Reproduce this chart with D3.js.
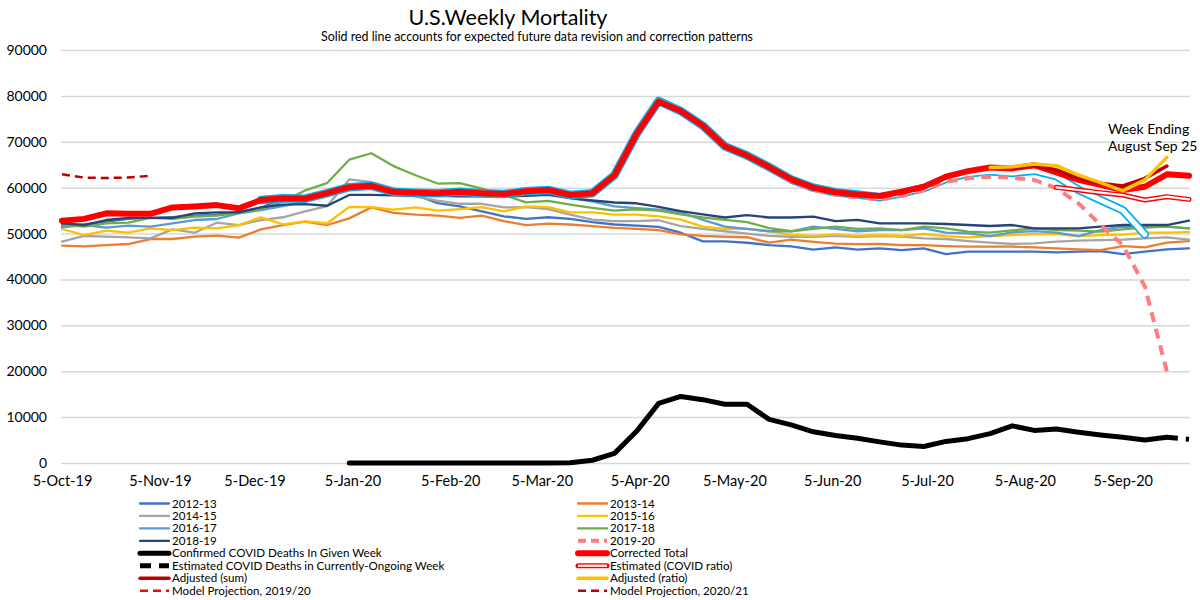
<!DOCTYPE html>
<html><head><meta charset="utf-8">
<script src="https://cdn.jsdelivr.net/npm/d3@7"></script>
<style>
body{margin:0;background:#fff}
svg{display:block}
text{font-family:Lato,"Open Sans",sans-serif;fill:#000}
</style>
</head><body>
<svg id="c" width="1200" height="600"></svg>
<script>
// ---------- DATA ----------
const weeks = ["2019-10-05","2019-10-12","2019-10-19","2019-10-26","2019-11-02","2019-11-09","2019-11-16","2019-11-23","2019-11-30",
"2019-12-07","2019-12-14","2019-12-21","2019-12-28","2020-01-04","2020-01-11","2020-01-18","2020-01-25","2020-02-01","2020-02-08",
"2020-02-15","2020-02-22","2020-02-29","2020-03-07","2020-03-14","2020-03-21","2020-03-28","2020-04-04","2020-04-11","2020-04-18",
"2020-04-25","2020-05-02","2020-05-09","2020-05-16","2020-05-23","2020-05-30","2020-06-06","2020-06-13","2020-06-20","2020-06-27",
"2020-07-04","2020-07-11","2020-07-18","2020-07-25","2020-08-01","2020-08-08","2020-08-15","2020-08-22","2020-08-29","2020-09-05",
"2020-09-12","2020-09-19","2020-09-26"];
const xTickDates = ["2019-10-05","2019-11-05","2019-12-05","2020-01-05","2020-02-05","2020-03-05","2020-04-05","2020-05-05",
"2020-06-05","2020-07-05","2020-08-05","2020-09-05"];
const yTicks = [0,10000,20000,30000,40000,50000,60000,70000,80000,90000];

const s2012_13 = [51600,52000,52600,53200,53400,53600,53900,54100,54700,55600,57710,58060,58780,60360,60360,59140,58420,56630,55910,54840,53760,53190,53550,53190,52470,51970,51750,51470,50180,48300,48300,48000,47500,47200,46500,47000,46500,46780,46410,46780,45540,46050,46050,46050,46050,45900,46050,46200,45540,46050,46560,46780];
const s2013_14 = [47360,47210,47500,47720,48810,48810,49320,49540,49100,50920,51860,52590,51860,53310,55710,54500,54120,53910,53400,53910,52690,51830,52180,51970,51610,51250,51040,50750,49820,49500,49300,49200,48000,48700,48200,47800,47700,47720,47500,47500,47280,47140,47140,47140,47000,46780,46560,46410,47280,47000,48010,48370];
const s2014_15 = [48230,49470,49320,49170,48960,50920,50190,52370,51860,52950,53550,54840,56000,61790,61220,59860,58060,57200,56490,56490,55700,55770,55340,54120,53050,52690,52690,52900,51610,51000,50500,50000,49500,49300,49300,49500,49300,49460,49320,48960,48810,48370,48010,47720,47870,48230,48450,48590,48670,48960,49170,48670];
const s2015_16 = [50990,49680,50620,50190,51130,50770,51280,51130,51860,53530,52000,52650,52250,55800,55770,55200,55700,54980,55340,55770,54840,55910,55770,54620,54620,54120,54120,53760,53050,51500,51000,51000,50500,49700,49500,49800,49500,49680,49500,49900,49460,49170,49460,49680,49900,49900,49460,49680,49750,50190,50190,50330];
const s2016_17 = [51350,51860,51280,51720,51500,52220,52950,53170,54400,55130,56000,56940,58400,60500,61000,59500,59140,58920,59140,58920,58780,58920,58780,57700,56990,55910,55550,55200,54620,53000,51500,51000,50500,50500,51500,51000,50500,50770,50770,51130,50190,50050,49460,50260,50550,50190,49460,50770,51500,51350,51500,51130];
const s2017_18 = [51900,51500,52200,52400,53400,53200,53700,53900,54500,55300,57000,59400,61000,66100,67500,64700,62700,60900,61000,59800,58400,56800,57100,56300,55600,55000,55300,55000,54200,53500,53000,52500,51200,50500,51000,51500,51000,51130,50770,51500,51130,50410,50190,50700,51130,50770,50630,50410,50920,51350,51500,51130];
const s2018_19 = [52220,51860,52950,53400,53400,53400,54400,54620,54620,55710,56290,56420,56060,58420,58420,58300,58200,58200,58100,58100,58060,58200,58420,57700,57200,56770,56600,55800,54900,54200,53500,54000,53500,53500,53700,52700,53000,52220,52220,52220,52080,51860,51650,51860,51130,51130,51130,51500,51860,51860,51860,52810];
const s2019_20 = [52800,53200,54400,54300,54300,55700,55900,56200,55500,57300,57700,57600,58800,60100,60400,59100,58900,58800,59100,58800,58600,59200,59500,58400,58800,62700,71700,78800,76700,73500,69000,67000,64300,61400,59500,58500,57900,57450,58180,59490,61300,62030,62390,62170,61670,59850,56580,51860,47500,38500,19900,null];
const reported2019_20 = [null,null,null,null,null,null,null,null,null,57300,57700,57600,58800,60100,60400,59100,58900,58800,59100,58800,58600,59200,59500,58400,58800,62700,71700,78900,76700,73500,69000,67000,64500,61800,60000,59000,58500,57900,58800,59900,61900,63100,63600,63200,63700,62500,59500,57300,55100,49800,null,null];
const correctedTotal = [52800,53200,54400,54300,54300,55700,55900,56200,55500,57300,57700,57600,58800,60100,60400,59100,58900,58800,59100,58800,58600,59200,59500,58400,58800,62700,71700,78800,76700,73500,69000,67000,64500,61800,60000,59000,58500,58200,59100,60200,62400,63600,64400,64200,64900,63300,61700,60600,59500,60200,62900,62600];
const covidConfirmed = [null,null,null,null,null,null,null,null,null,null,null,null,null,0,0,0,0,0,0,0,0,0,0,50,600,2100,6900,13000,14500,13800,12800,12800,9500,8300,6800,6000,5400,4600,3900,3600,4700,5300,6400,8100,7100,7400,6700,6100,5600,5000,5600,null];
const covidOngoing = [null,null,null,null,null,null,null,null,null,null,null,null,null,null,null,null,null,null,null,null,null,null,null,null,null,null,null,null,null,null,null,null,null,null,null,null,null,null,null,null,null,null,null,null,null,null,null,null,null,null,5600,5150];
const estCovidRatio = [null,null,null,null,null,null,null,null,null,null,null,null,null,null,null,null,null,null,null,null,null,null,null,null,null,null,null,null,null,null,null,null,null,null,null,null,null,null,null,null,null,null,null,null,null,60070,59490,58900,58400,57310,58030,57450];
const adjustedSum = [null,null,null,null,null,null,null,null,null,null,null,null,null,null,null,null,null,null,null,null,null,null,null,null,null,null,null,null,null,null,null,null,null,null,null,null,null,null,null,null,null,null,null,64200,64900,63850,62030,60940,60360,62030,64720,null];
const adjustedRatio = [null,null,null,null,null,null,null,null,null,null,null,null,null,null,null,null,null,null,null,null,null,null,null,null,null,null,null,null,null,null,null,null,null,null,null,null,null,null,null,null,null,null,64400,64570,65160,64790,62750,61080,59300,61700,66600,null];
const modelProj2019_20 = [];
const modelProj2020_21 = [62900,62200,62100,62200,62600];

// ---------- SETUP ----------
const svg = d3.select("#c");
const parse = d3.timeParse("%Y-%m-%d");
const dates = weeks.map(parse);
const x = d3.scaleTime().domain([dates[0], dates[dates.length-1]]).range([62, 1189]);
const y = d3.scaleLinear().domain([0, 90000]).range([463, 50]);
const plotL = 61, plotR = 1190;

// title
svg.append("text").attr("x", 508).attr("y", 25).attr("text-anchor","middle")
  .style("font-size","21.5px").text("U.S.Weekly Mortality");
svg.append("text").attr("x", 537).attr("y", 41).attr("text-anchor","middle")
  .style("font-size","12.4px").text("Solid red line accounts for expected future data revision and correction patterns");

// y axis with gridlines
const yAx = svg.append("g").attr("transform", `translate(${plotL},0)`)
  .call(d3.axisLeft(y).tickValues(yTicks).tickFormat(d3.format("d")).tickSize(-(plotR-plotL)).tickPadding(14));
yAx.select(".domain").remove();
yAx.selectAll(".tick line").attr("stroke","#d9d9d9").attr("stroke-width",1.5);
yAx.selectAll(".tick text").style("font-size","14px").style("font-family","Lato").attr("fill","#000");

// x axis
const xAx = svg.append("g").attr("transform","translate(0,463)")
  .call(d3.axisBottom(x).tickValues(xTickDates.map(parse)).tickFormat(d3.timeFormat("%-d-%b-%y")).tickSize(0).tickPadding(13));
xAx.select(".domain").remove();
xAx.selectAll(".tick text").style("font-size","14.5px").style("font-family","Lato").attr("fill","#000");

// ---------- LINES ----------
const line = d3.line().defined(d => d != null).x((d,i) => x(dates[i])).y(d => y(d));
function drawLine(data, opts){
  const p = svg.append("path").datum(data).attr("d", line).attr("fill","none")
    .attr("stroke", opts.color).attr("stroke-width", opts.w)
    .attr("stroke-linejoin","round").attr("stroke-linecap", opts.cap || "round");
  if (opts.dash) p.attr("stroke-dasharray", opts.dash);
  return p;
}
const seasons = [
  {d:s2012_13, c:"#4472C4"},
  {d:s2013_14, c:"#ED7D31"},
  {d:s2014_15, c:"#A5A5A5"},
  {d:s2015_16, c:"#FFC000"},
  {d:s2016_17, c:"#5B9BD5"},
  {d:s2017_18, c:"#70AD47"},
  {d:s2018_19, c:"#264478"}
];
seasons.forEach(s => drawLine(s.d, {color:s.c, w:2.3}));

drawLine(reported2019_20, {color:"#00B0F0", w:8.5});
drawLine(reported2019_20, {color:"#ffffff", w:5});
drawLine(s2019_20, {color:"#FF7C80", w:4, dash:"10,7", cap:"butt"});
drawLine(covidConfirmed, {color:"#000", w:5});
drawLine(covidOngoing, {color:"#000", w:5, dash:"11,8", cap:"butt"});
drawLine(correctedTotal, {color:"#FF0000", w:6});
drawLine(estCovidRatio, {color:"#FF0000", w:5});
drawLine(estCovidRatio, {color:"#ffffff", w:2.2});
drawLine(adjustedSum, {color:"#C00000", w:3.5});
drawLine(adjustedRatio, {color:"#FFC000", w:3.5});
drawLine(modelProj2019_20, {color:"#FF0000", w:2.5, dash:"8,5", cap:"butt"});
drawLine(modelProj2020_21, {color:"#C00000", w:2.5, dash:"8,5", cap:"butt"});

// annotation
const ann = svg.append("text").style("font-size","14px");
ann.append("tspan").attr("x",1108).attr("y",134).text("Week Ending");
ann.append("tspan").attr("x",1108).attr("y",151).text("August Sep 25");

// ---------- LEGEND ----------
const legendItems = [
  {t:"2012-13", c:"#4472C4", w:2.3},
  {t:"2013-14", c:"#ED7D31", w:2.3},
  {t:"2014-15", c:"#A5A5A5", w:2.3},
  {t:"2015-16", c:"#FFC000", w:2.3},
  {t:"2016-17", c:"#5B9BD5", w:2.3},
  {t:"2017-18", c:"#70AD47", w:2.3},
  {t:"2018-19", c:"#264478", w:2.3},
  {t:"2019-20", c:"#FF7C80", w:4, dash:"8,5"},
  {t:"Confirmed COVID Deaths In Given Week", c:"#000", w:5},
  {t:"Corrected Total", c:"#FF0000", w:6},
  {t:"Estimated COVID Deaths in Currently-Ongoing Week", c:"#000", w:5, dash:"11,8"},
  {t:"Estimated (COVID ratio)", c:"#FF0000", w:5, hollow:true},
  {t:"Adjusted (sum)", c:"#C00000", w:3.5},
  {t:"Adjusted (ratio)", c:"#FFC000", w:3.5},
  {t:"Model Projection, 2019/20", c:"#FF0000", w:2.5, dash:"8,5"},
  {t:"Model Projection, 2020/21", c:"#C00000", w:2.5, dash:"8,5"}
];
const colX = [140, 578];
const rowY0 = 503.5, rowDy = 12.45;
legendItems.forEach((it, k) => {
  const col = k % 2, row = Math.floor(k / 2);
  const lx = colX[col], ly = rowY0 + row * rowDy;
  const g = svg.append("g");
  const ln = g.append("line").attr("x1", lx).attr("x2", lx + 29).attr("y1", ly).attr("y2", ly)
    .attr("stroke", it.c).attr("stroke-width", it.w).attr("stroke-linecap", it.dash ? "butt" : "round");
  if (it.dash) ln.attr("stroke-dasharray", it.dash);
  if (it.hollow) g.append("line").attr("x1", lx).attr("x2", lx + 29).attr("y1", ly).attr("y2", ly)
    .attr("stroke", "#fff").attr("stroke-width", 2.2);
  g.append("text").attr("x", lx + 32).attr("y", ly + 4).style("font-size","11.6px").text(it.t);
});
</script>
</body></html>
